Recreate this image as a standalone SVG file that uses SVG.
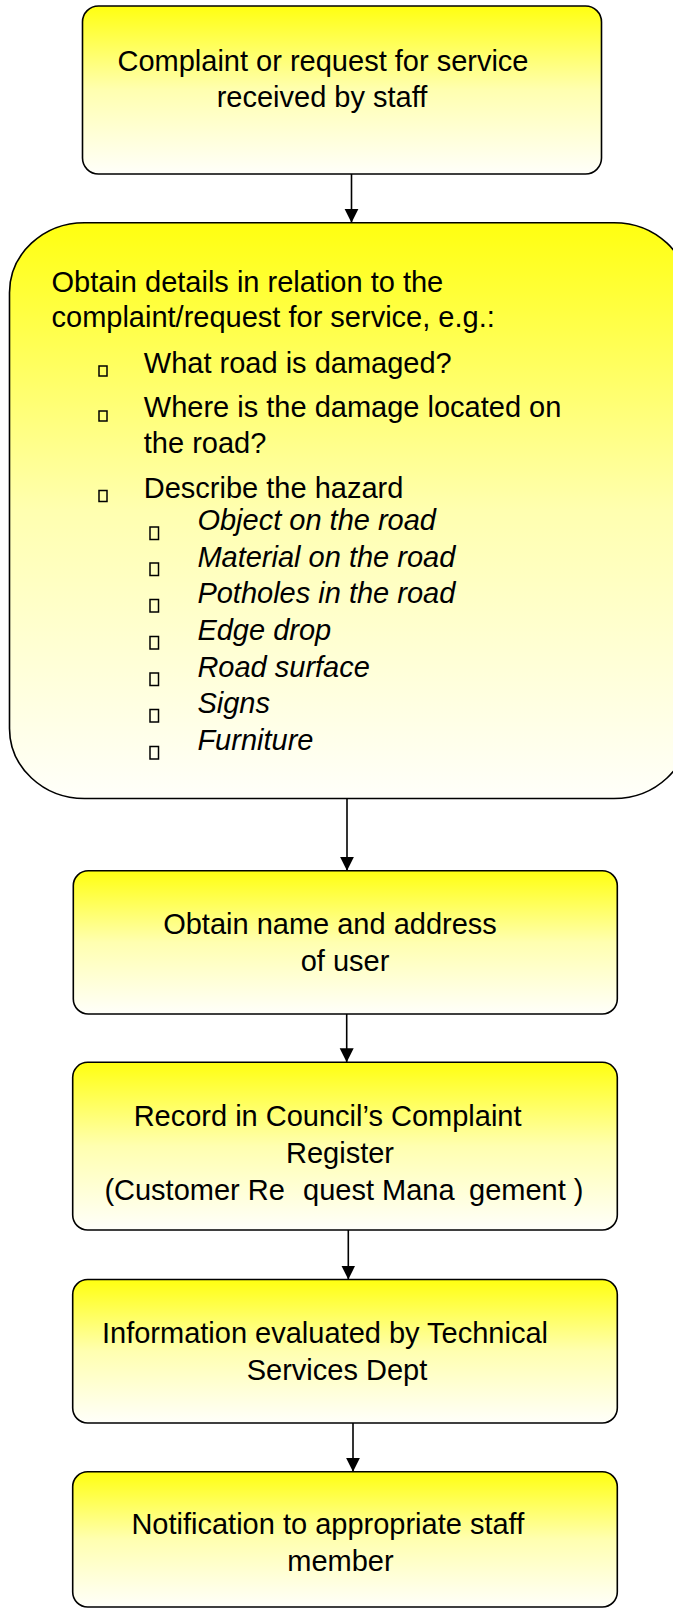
<svg xmlns="http://www.w3.org/2000/svg" width="673" height="1609" viewBox="0 0 673 1609">
<style>
.box{stroke:#000;stroke-width:1.6;fill:url(#yg)}
.t{font-family:"Liberation Sans",Arial,sans-serif;font-size:29px;fill:#000}
.c{text-anchor:middle}
.i{font-style:italic}
.b{fill:none;stroke:#000;stroke-width:1.5}
.conn{stroke:#000;stroke-width:1.6;fill:none;marker-end:url(#ah)}
</style>
<defs>
<linearGradient id="yg" x1="0" y1="0" x2="0" y2="1">
<stop offset="0" stop-color="#ffff10"/>
<stop offset="0.5" stop-color="#ffffb0"/>
<stop offset="1" stop-color="#fffffa"/>
</linearGradient>
<marker id="ah" markerUnits="userSpaceOnUse" markerWidth="15" markerHeight="15" refX="14" refY="7" orient="auto" viewBox="0 0 15 15">
<path d="M0,0 L14,7 L0,14 z" fill="#000"/>
</marker>
</defs>
<g id="connectors">
<line class="conn" x1="351.5" y1="174" x2="351.5" y2="222.7"/>
<line class="conn" x1="347" y1="798.5" x2="347" y2="870.7"/>
<line class="conn" x1="346.7" y1="1014" x2="346.7" y2="1062.3"/>
<line class="conn" x1="348.3" y1="1230" x2="348.3" y2="1279.5"/>
<line class="conn" x1="353" y1="1423" x2="353" y2="1471.7"/>
</g>
<g id="n1">
<rect class="box" x="82.5" y="6" width="519" height="168" rx="16"/>
<text class="t c" x="323" y="71">Complaint or request for service</text>
<text class="t c" x="322" y="106.5">received by staff</text>
</g>
<g id="n2">
<rect class="box" x="9.5" y="222.7" width="679.5" height="575.8" rx="75" ry="70"/>
<text class="t" x="51.5" y="292">Obtain details in relation to the</text>
<text class="t" x="51.5" y="327">complaint/request for service, e.g.:</text>
<rect class="b" x="99" y="366" width="8" height="10"/>
<text class="t" x="143.8" y="372.7">What road is damaged?</text>
<rect class="b" x="99" y="411" width="8" height="10"/>
<text class="t" x="143.8" y="416.7">Where is the damage located on</text>
<text class="t" x="143.8" y="452.7">the road?</text>
<rect class="b" x="99" y="490.5" width="8" height="11"/>
<text class="t" x="143.8" y="498.3">Describe the hazard</text>
<rect class="b" x="150" y="527" width="8.5" height="12.5"/>
<text class="t i" x="197.4" y="530">Object on the road</text>
<rect class="b" x="150" y="563" width="8.5" height="12.5"/>
<text class="t i" x="197.4" y="566.7">Material on the road</text>
<rect class="b" x="150" y="599.5" width="8.5" height="12.5"/>
<text class="t i" x="197.4" y="603.3">Potholes in the road</text>
<rect class="b" x="150" y="636.5" width="8.5" height="12.5"/>
<text class="t i" x="197.4" y="640">Edge drop</text>
<rect class="b" x="150" y="673" width="8.5" height="12.5"/>
<text class="t i" x="197.4" y="676.7">Road surface</text>
<rect class="b" x="150" y="709.5" width="8.5" height="12.5"/>
<text class="t i" x="197.4" y="713.3">Signs</text>
<rect class="b" x="150" y="746.5" width="8.5" height="12.5"/>
<text class="t i" x="197.4" y="750">Furniture</text>
</g>
<g id="n3">
<rect class="box" x="73.3" y="870.7" width="544" height="143.3" rx="15"/>
<text class="t c" x="330" y="934">Obtain name and address</text>
<text class="t c" x="345" y="970.7">of user</text>
</g>
<g id="n4">
<rect class="box" x="72.7" y="1062.3" width="544.6" height="167.7" rx="15"/>
<text class="t c" x="327.6" y="1126">Record in Council’s Complaint</text>
<text class="t c" x="340" y="1163">Register</text>
<text class="t" y="1200"><tspan x="104.4">(Customer Re</tspan><tspan x="303">quest Mana</tspan><tspan x="469">gement )</tspan></text>
</g>
<g id="n5">
<rect class="box" x="72.7" y="1279.5" width="544.6" height="143.5" rx="15"/>
<text class="t c" x="325" y="1342.7">Information evaluated by Technical</text>
<text class="t c" x="337" y="1380">Services Dept</text>
</g>
<g id="n6">
<rect class="box" x="72.7" y="1471.7" width="544.6" height="135.3" rx="15"/>
<text class="t c" x="327.8" y="1534.3">Notification to appropriate staff</text>
<text class="t c" x="340.4" y="1571">member</text>
</g>
</svg>
